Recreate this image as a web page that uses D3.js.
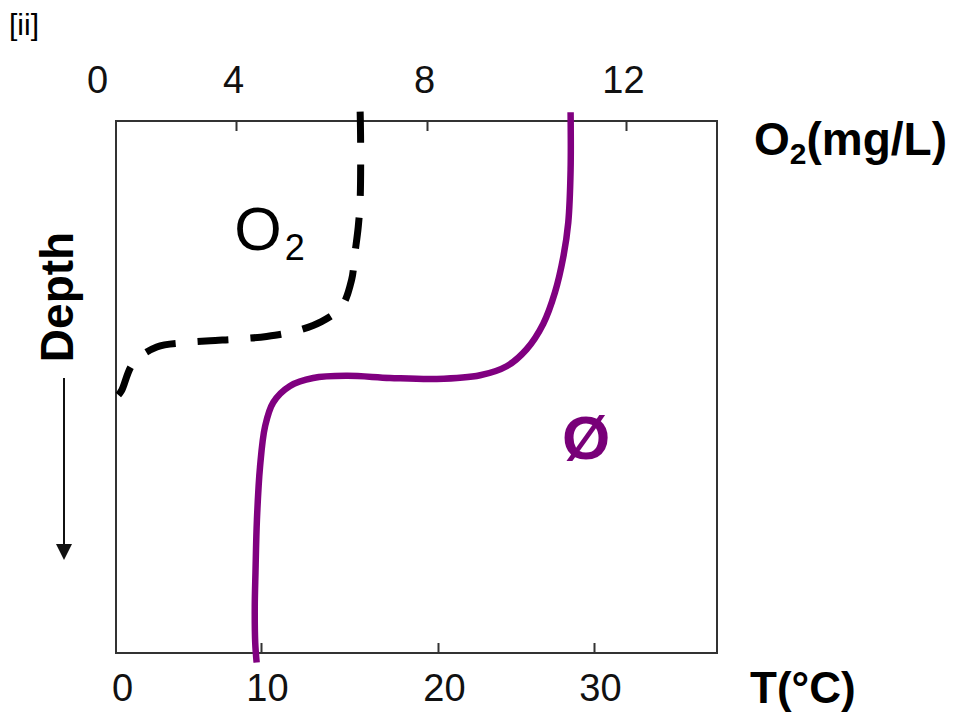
<!DOCTYPE html>
<html>
<head>
<meta charset="utf-8">
<script src="https://cdn.jsdelivr.net/npm/d3@7"></script>
<style>
  body { margin: 0; background: #fff; }
  text { font-family: "Liberation Sans", Arial, sans-serif; }
</style>
</head>
<body>
<div id="chart"></div>
<script>
// Data
const o2Ticks = [0, 4, 8, 12];
const tempTicks = [0, 10, 20, 30];

// dissolved oxygen profile (mg/L vs relative depth)
const o2Values = [6.6, 6.61, 6.6, 6.56, 6.49, 6.42, 6.21, 5.79, 5.2, 4.64, 4.01, 3.24, 2.45, 1.67, 0.98, 0.64, 0.54];
const o2Depths = [-1.75, 4.1, 14.8, 19.9, 24.9, 29.9, 34.9, 37.7, 39.6, 40.5, 41.0, 41.3, 41.7, 42.5, 45.5, 50.6, 51.5];

// temperature profile (°C vs relative depth)
const tempValues = [28.5, 28.5, 28.35, 28.03, 27.5, 26.75, 25.68, 24.4, 22.7, 19.93, 17.29, 14.84, 12.95, 11.64, 10.69, 10.23, 9.93, 9.72, 9.62, 9.57, 9.6, 9.7];
const tempDepths = [-1.65, 9.2, 19.1, 25.6, 32.2, 38.1, 42.9, 46.1, 47.8, 48.5, 48.3, 47.9, 48.3, 49.8, 52.9, 57.4, 65.1, 74.9, 84.8, 91.3, 98.0, 101.8];

function draw() {
  // Dimensions
  const dimensions = {
    width: 962,
    height: 715,
    left: 116,
    right: 717,
    top: 121,
    bottom: 653,
  };

  const svg = d3
    .select("#chart")
    .append("svg")
    .attr("width", dimensions.width)
    .attr("height", dimensions.height);

  // Scales (the original axes are not evenly spaced)
  const o2Scale = d3.scaleLinear().domain(o2Ticks).range([100, 236, 427, 626]);
  const tempScale = d3.scaleLinear().domain(tempTicks).range([116, 261, 438, 594]);
  const depthScale = d3
    .scaleLinear()
    .domain([0, 100])
    .range([dimensions.top, dimensions.bottom]);

  // Panel label
  svg.append("text").attr("x", 9).attr("y", 35).style("font-size", "30px").text("[ii]");

  // Frame
  svg
    .append("rect")
    .attr("x", dimensions.left)
    .attr("y", dimensions.top)
    .attr("width", dimensions.right - dimensions.left)
    .attr("height", dimensions.bottom - dimensions.top)
    .attr("fill", "none")
    .attr("stroke", "#333")
    .attr("stroke-width", 2);

  // Axes
  const topAxis = d3
    .axisTop(o2Scale)
    .tickValues(o2Ticks)
    .tickSize(-10)
    .tickPadding(28)
    .tickFormat(d3.format("d"));

  const topG = svg
    .append("g")
    .attr("transform", `translate(0, ${dimensions.top})`)
    .call(topAxis);

  const bottomAxis = d3
    .axisBottom(tempScale)
    .tickValues(tempTicks)
    .tickSize(-10)
    .tickPadding(21)
    .tickFormat(d3.format("d"));

  const bottomG = svg
    .append("g")
    .attr("transform", `translate(0, ${dimensions.bottom})`)
    .call(bottomAxis);

  [topG, bottomG].forEach((g) => {
    g.select(".domain").remove();
    g.selectAll(".tick line").attr("stroke", "#333").attr("stroke-width", 2);
    g.selectAll(".tick")
      .filter((d) => d === 0)
      .select("line")
      .remove();
    g.selectAll(".tick text")
      .attr("fill", "#111")
      .style("font-size", "38px")
      .style("font-family", "Liberation Sans, Arial, sans-serif");
  });
  topG.selectAll(".tick text").attr("dx", -3);
  bottomG.selectAll(".tick text").attr("dx", 6);

  // Lines
  const o2Data = o2Values.map((v, i) => ({ v, d: o2Depths[i] }));
  const tempData = tempValues.map((v, i) => ({ v, d: tempDepths[i] }));

  const o2Line = d3
    .line()
    .x((p) => o2Scale(p.v))
    .y((p) => depthScale(p.d))
    .curve(d3.curveCatmullRom.alpha(0.5));

  const tempLine = d3
    .line()
    .x((p) => tempScale(p.v))
    .y((p) => depthScale(p.d))
    .curve(d3.curveCatmullRom.alpha(0.5));

  svg
    .append("path")
    .datum(tempData)
    .attr("d", tempLine)
    .attr("fill", "none")
    .attr("stroke", "#800080")
    .attr("stroke-width", 6.5);

  svg
    .append("path")
    .datum(o2Data)
    .attr("d", o2Line)
    .attr("fill", "none")
    .attr("stroke", "#000")
    .attr("stroke-width", 7)
    .attr("stroke-dasharray", "31 22");

  // Curve labels
  const o2Label = svg
    .append("text")
    .attr("x", o2Scale(3.95))
    .attr("y", depthScale(24.2))
    .style("font-size", "61px")
    .text("O");
  o2Label.append("tspan").attr("dx", 3).attr("dy", 10).style("font-size", "36px").text("2");

  svg
    .append("text")
    .attr("x", tempScale(29.5))
    .attr("y", depthScale(63.5))
    .attr("text-anchor", "middle")
    .attr("fill", "#780078")
    .style("font-size", "62px")
    .style("font-weight", "bold")
    .text("Ø");

  // Axis titles
  const o2Title = svg
    .append("text")
    .attr("x", 754)
    .attr("y", 155)
    .style("font-size", "46px")
    .style("font-weight", "bold")
    .text("O");
  o2Title.append("tspan").attr("dy", 9).style("font-size", "30px").text("2");
  o2Title.append("tspan").attr("dy", -9).text("(mg/L)");

  svg
    .append("text")
    .attr("x", 750)
    .attr("y", 703)
    .style("font-size", "44px")
    .style("font-weight", "bold")
    .text("T(°C)");

  svg
    .append("text")
    .attr("transform", "translate(73, 297) rotate(-90)")
    .attr("text-anchor", "middle")
    .style("font-size", "46px")
    .style("font-weight", "bold")
    .text("Depth");

  // Depth arrow
  svg
    .append("defs")
    .append("marker")
    .attr("id", "arrow")
    .attr("viewBox", "0 0 10 10")
    .attr("refX", 0)
    .attr("refY", 5)
    .attr("markerWidth", 8)
    .attr("markerHeight", 8)
    .attr("markerUnits", "strokeWidth")
    .attr("orient", "auto")
    .append("path")
    .attr("d", "M0,0 L10,5 L0,10 z")
    .attr("fill", "#111");

  svg
    .append("line")
    .attr("x1", 64)
    .attr("y1", 378)
    .attr("x2", 64)
    .attr("y2", 544)
    .attr("stroke", "#111")
    .attr("stroke-width", 2)
    .attr("marker-end", "url(#arrow)");
}

draw();
</script>
</body>
</html>
